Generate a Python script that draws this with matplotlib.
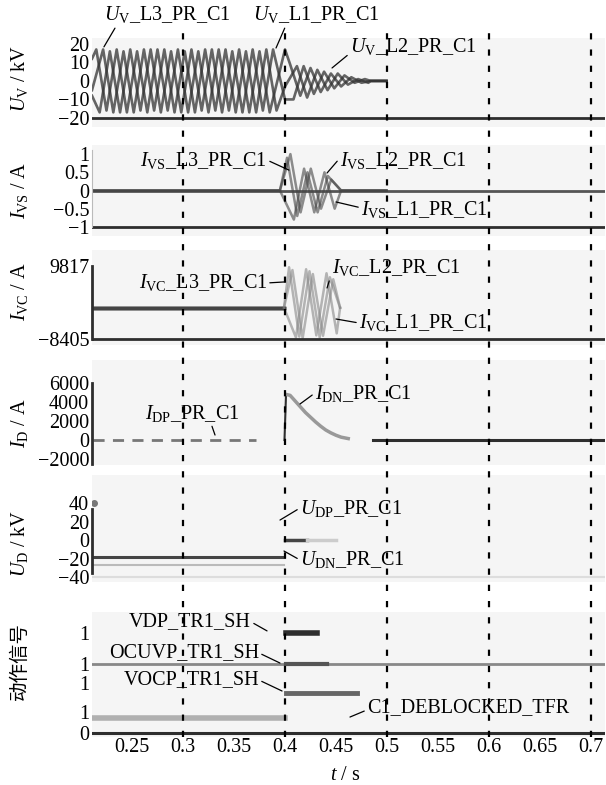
import matplotlib
matplotlib.use('Agg')
import matplotlib.pyplot as plt

plt.rcParams['font.family'] = ['Liberation Serif', 'Noto Sans CJK SC']
plt.rcParams['font.size'] = 14.5
plt.rcParams['mathtext.fontset'] = 'custom'
plt.rcParams['mathtext.rm'] = 'Liberation Serif'
plt.rcParams['mathtext.it'] = 'Liberation Serif:italic'

# time window and grid lines
t_lim = (0.2108, 0.7137)
t_grid = [0.3, 0.4, 0.5, 0.6, 0.7]
t_ticks = [0.25, 0.3, 0.35, 0.4, 0.45, 0.5, 0.55, 0.6, 0.65, 0.7]
t_ticklabels = ['0.25', '0.3', '0.35', '0.4', '0.45', '0.5', '0.55', '0.6', '0.65', '0.7']

# phase shifts of L1, L2, L3 (s)
phase_shift = [0.0, 0.0067, 0.0033]

# ---- U_V (kV) ----
uv_ticks = [20, 10, 0, -10, -20]
uv_t_pre = [0.215, 0.225, 0.235, 0.245, 0.255, 0.265, 0.275, 0.285, 0.295,
            0.305, 0.315, 0.325, 0.335, 0.345, 0.355, 0.365, 0.375, 0.385]
uv_t_post = [0.405, 0.415, 0.425, 0.435, 0.445, 0.455, 0.465, 0.475]
uv_start = [12, -5, -8]
uv_fault = [17, -3, -10]
uv_pre = [
    [17, -16, 17, -17, 16, -17, 17, -16, 17, -17, 16, -17, 17, -16, 17, -17, 16, -17],
    [17, -17, 16, -17, 17, -16, 17, -17, 16, -17, 17, -16, 17, -17, 16, -17, 17, -16],
    [-17, 16, -17, 17, -16, 17, -17, 16, -17, 17, -16, 17, -17, 16, -17, 17, -16, 17],
]
uv_post = [
    [9, -8, 7, -6, 4, -3, 2, -1],
    [8, -9, 6, -5, 4, -2, 1, -1],
    [-10, 8, -7, 5, -4, 3, -1, 1],
]
uv_tail_t = [0.484, 0.4995]
uv_tail_v = [0, 0]

# ---- I_VS (A) ----
ivs_ticks = [1, 0.5, 0, -0.5, -1]
ivs_ticklabels = ['1', '0.5', '0', '\u22120.5', '\u22121']
ivs_t_osc = [0.402, 0.412, 0.422, 0.432, 0.442]
ivs_osc = [
    [0.9, -0.7, 0.5, -0.6, 0.4],
    [-0.8, 0.6, -0.6, 0.5, -0.5],
    [1.0, -0.6, 0.6, -0.5, 0.3],
]
ivs_t_flat = [0.2118, 0.395]
ivs_t_end = [0.455, 0.4995]

# ---- I_VC (A) ----
ivc_ticks = [9817, -8405]
ivc_dc = -600
ivc_t_dc = [0.2118, 0.399]
ivc_t_osc = [0.404, 0.414, 0.424, 0.434, 0.444]
ivc_osc = [
    [9500, -7800, 8500, -8000, 7000],
    [-8000, 9000, -7500, 8000, -7000],
    [8800, -8200, 7800, -7600, 6500],
]
ivc_t_end = 0.454

# ---- I_D (A) ----
id_ticks = [6000, 4000, 2000, 0, -2000]
idp_t = [0.2118, 0.372]
idp_v = [0, 0]
idn_t = [0.3995, 0.401, 0.405, 0.41, 0.415, 0.42, 0.425, 0.43, 0.435, 0.44,
         0.445, 0.45, 0.455, 0.462]
idn_v = [0, 4800, 4700, 4100, 3500, 2900, 2400, 1900, 1450, 1050, 750, 500, 300, 150]
id_after_t = [0.486, 0.7137]
id_after_v = [0, 0]

# ---- U_D (kV) ----
ud_ticks = [40, 20, 0, -20, -40]
udn_t = [0.2118, 0.399]
udn_v = [-18, -18]
udn2_v = [-27, -27]
udp_t = [0.4, 0.4216]
udp_v = [0, 0]
udp_fade_t = [0.4216, 0.45]
udp_fade_v = [0, 0]

# ---- action signals ----
sig_ticks = [4.76, 3.29, 2.38, 1.0, 0]
sig_ticklabels = ['1', '1', '1', '1', '0']
vdp_t, vdp_level = [0.401, 0.431], 4.76
ocuvp_t, ocuvp_level = [0.401, 0.441], 3.29
vocp_t, vocp_level = [0.401, 0.471], 1.9
deblock_t, deblock_level = [0.2118, 0.4], 0.71

W, H = 606, 785
fig = plt.figure(figsize=(W / 100, H / 100), dpi=100)
bg = '#f5f5f5'
dark = '#2e2e2e'


def panel(top, bottom, ylim):
    ax = fig.add_axes([92 / W, 1 - bottom / H, 513 / W, (bottom - top) / H])
    ax.set_facecolor(bg)
    ax.set_xlim(*t_lim)
    ax.set_ylim(*ylim)
    for s in ax.spines.values():
        s.set_visible(False)
    ax.tick_params(length=0, pad=2)
    ax.set_xticks([])
    return ax


def minus(v):
    return str(v).replace('-', '\u2212')


# U_V
ax1 = panel(38, 127, (-24.9, 23.2))
for k in range(3):
    s = phase_shift[k]
    t = [t_lim[0]] + [x + s for x in uv_t_pre] + [0.4] + [x + s for x in uv_t_post] + uv_tail_t
    v = [uv_start[k]] + uv_pre[k] + [uv_fault[k]] + uv_post[k] + uv_tail_v
    ax1.plot(t, v, color='#333333', lw=1.9, alpha=0.75)
ax1.axhline(uv_ticks[-1], color=dark, lw=2)
ax1.set_yticks(uv_ticks, [minus(v) for v in uv_ticks])

# I_VS
ax2 = panel(145, 236, (-1.25, 1.25))
ax2.axhline(0, color='#555555', lw=2)
for k in range(3):
    s = phase_shift[k]
    t = ivs_t_flat + [x + s for x in ivs_t_osc] + ivs_t_end
    v = [0, 0] + ivs_osc[k] + [0, 0]
    ax2.plot(t, v, color='#444444', lw=1.8, alpha=0.6)
ax2.axhline(ivs_ticks[-1], color=dark, lw=2)
ax2.spines['left'].set_visible(True)
ax2.spines['left'].set_color('#bbbbbb')
ax2.spines['left'].set_bounds(-1, 1.1)
ax2.set_yticks(ivs_ticks, ivs_ticklabels)

# I_VC
ax3 = panel(250, 345, (-9900, 13800))
for k in range(3):
    s = phase_shift[k]
    t = ivc_t_dc + [x + s for x in ivc_t_osc] + [ivc_t_end]
    v = [ivc_dc, ivc_dc] + ivc_osc[k] + [ivc_dc]
    ax3.plot(t[:2], v[:2], color='#444444', lw=2.5)
    ax3.plot(t[1:], v[1:], color='#888888', lw=1.8, alpha=0.6)
ax3.axhline(ivc_ticks[-1], color=dark, lw=2)
ax3.spines['left'].set_visible(True)
ax3.spines['left'].set_color(dark)
ax3.spines['left'].set_linewidth(2)
ax3.spines['left'].set_bounds(ivc_ticks[1], ivc_ticks[0])
ax3.set_yticks(ivc_ticks, [minus(v) for v in ivc_ticks])

# I_D
ax4 = panel(360, 465, (-2630, 8420))
ax4.plot(idp_t, idp_v, color='#777777', lw=2, ls=(0, (4, 3)))
ax4.plot(idn_t[:2], idn_v[:2], color=dark, lw=1.5)
ax4.plot(idn_t[1:], idn_v[1:], color='#999999', lw=2.5)
ax4.plot(id_after_t, id_after_v, color=dark, lw=2.2)
ax4.spines['left'].set_visible(True)
ax4.spines['left'].set_color(dark)
ax4.spines['left'].set_linewidth(2)
ax4.spines['left'].set_bounds(-2500, 6000)
ax4.set_yticks(id_ticks, [minus(v) for v in id_ticks])

# U_D
ax5 = panel(475, 582, (-45.4, 70.3))
ax5.plot(udn_t, udn_v, color='#444444', lw=2.2)
ax5.plot(udn_t, udn2_v, color='#bbbbbb', lw=1.5)
ax5.plot(udp_t, udp_v, color='#444444', lw=2.5)
ax5.plot(udp_fade_t, udp_fade_v, color='#cccccc', lw=2.5)
ax5.plot([t_lim[0] + 0.0015], [ud_ticks[0]], 'o', color='#777777', ms=4)
ax5.axhline(ud_ticks[-1], color='#dddddd', lw=1.5)
ax5.spines['left'].set_visible(True)
ax5.spines['left'].set_color(dark)
ax5.spines['left'].set_linewidth(2)
ax5.spines['left'].set_bounds(-36, 33)
ax5.set_yticks(ud_ticks, [minus(v) for v in ud_ticks])

# action signals
ax6 = panel(612, 737, (-0.19, 5.76))
ax6.axhline(ocuvp_level, color='#888888', lw=2)
ax6.plot(vdp_t, [vdp_level] * 2, color=dark, lw=4)
ax6.plot(ocuvp_t, [ocuvp_level] * 2, color='#555555', lw=3)
ax6.plot(vocp_t, [vocp_level] * 2, color='#666666', lw=3.5)
ax6.plot(deblock_t, [deblock_level] * 2, color='#b0b0b0', lw=4)
ax6.axhline(0, color=dark, lw=2.2)
ax6.set_yticks(sig_ticks, sig_ticklabels)
ax6.set_xticks(t_ticks, t_ticklabels)
ax6.tick_params(axis='x', pad=1)

# dashed grid lines over all panels
ov = fig.add_axes([92 / W, 1 - 737 / H, 513 / W, (737 - 30) / H])
ov.set_xlim(*t_lim)
ov.axis('off')
for tg in t_grid:
    ov.axvline(tg, color='black', lw=1.6, ls=(0, (2.8, 4.5)))

# y labels
ylabels = [(r'$U_{\mathrm{V}}$ / kV', 78), (r'$I_{\mathrm{VS}}$ / A', 190),
           (r'$I_{\mathrm{VC}}$ / A', 292), (r'$I_{\mathrm{D}}$ / A', 423),
           (r'$U_{\mathrm{D}}$ / kV', 543)]
for txt, yc in ylabels:
    fig.text(19 / W, 1 - yc / H, txt, rotation=90, ha='center', va='center')
fig.text(19 / W, 1 - 661 / H, '动作信号', rotation=90, ha='center', va='center',
         family=['Noto Sans CJK SC'], fontweight='light', fontsize=14)
fig.text(345 / W, 1 - 776 / H, r'$t$ / s', ha='center', va='center')

# curve labels
lead = dict(arrowstyle='-', lw=0.9, color='black', shrinkA=0, shrinkB=0)


def label(ax, txt, xy, xyt, ha, rel):
    ax.annotate(txt, xy=xy, xytext=xyt, ha=ha, va='center',
                arrowprops=dict(lead, relpos=rel), annotation_clip=False)


label(ax1, r'$U_{\mathrm{V}}$_L3_PR_C1', (0.2225, 18.4), (0.2225, 35.7), 'left', (0.1, 0))
label(ax1, r'$U_{\mathrm{V}}$_L1_PR_C1', (0.3912, 17.8), (0.3686, 35.7), 'left', (0.26, 0))
label(ax1, r'$U_{\mathrm{V}}$_L2_PR_C1', (0.4461, 7.0), (0.4637, 18.4), 'left', (0, 0.2))

label(ax2, r'$I_{\mathrm{VS}}$_L3_PR_C1', (0.4039, 0.56), (0.3824, 0.836), 'right', (1, 0.5))
label(ax2, r'$I_{\mathrm{VS}}$_L2_PR_C1', (0.4412, 0.48), (0.4539, 0.836), 'left', (0, 0.6))
label(ax2, r'$I_{\mathrm{VS}}$_L1_PR_C1', (0.45, -0.315), (0.4745, -0.534), 'left', (0, 0.6))

label(ax3, r'$I_{\mathrm{VC}}$_L3_PR_C1', (0.399, 5823), (0.3824, 5574), 'right', (1, 0.5))
label(ax3, r'$I_{\mathrm{VC}}$_L2_PR_C1', (0.4412, 4326), (0.4461, 9318), 'left', (0, 0.3))
label(ax3, r'$I_{\mathrm{VC}}$_L1_PR_C1', (0.45, -3412), (0.4725, -4410), 'left', (0, 0.5))

label(ax4, r'$I_{\mathrm{DP}}$_PR_C1', (0.3314, 524), (0.2627, 2841), 'left', (0.7, 0))
label(ax4, r'$I_{\mathrm{DN}}$_PR_C1', (0.4147, 3789), (0.4294, 4947), 'left', (0, 0.5))

label(ax5, r'$U_{\mathrm{DP}}$_PR_C1', (0.3951, 21.6), (0.4147, 34.6), 'left', (0, 0.5))
label(ax5, r'$U_{\mathrm{DN}}$_PR_C1', (0.399, -11.9), (0.4147, -21.6), 'left', (0, 0.5))

label(ax6, 'VDP_TR1_SH', (0.3824, 4.86), (0.3667, 5.29), 'right', (1, 0.5))
label(ax6, 'OCUVP_TR1_SH', (0.3951, 3.33), (0.3745, 3.81), 'right', (1, 0.5))
label(ax6, 'VOCP_TR1_SH', (0.3971, 2.0), (0.3745, 2.52), 'right', (1, 0.5))
label(ax6, 'C1_DEBLOCKED_TFR', (0.4637, 0.76), (0.4804, 1.19), 'left', (0, 0.4))

fig.savefig('out.png', dpi=100)
